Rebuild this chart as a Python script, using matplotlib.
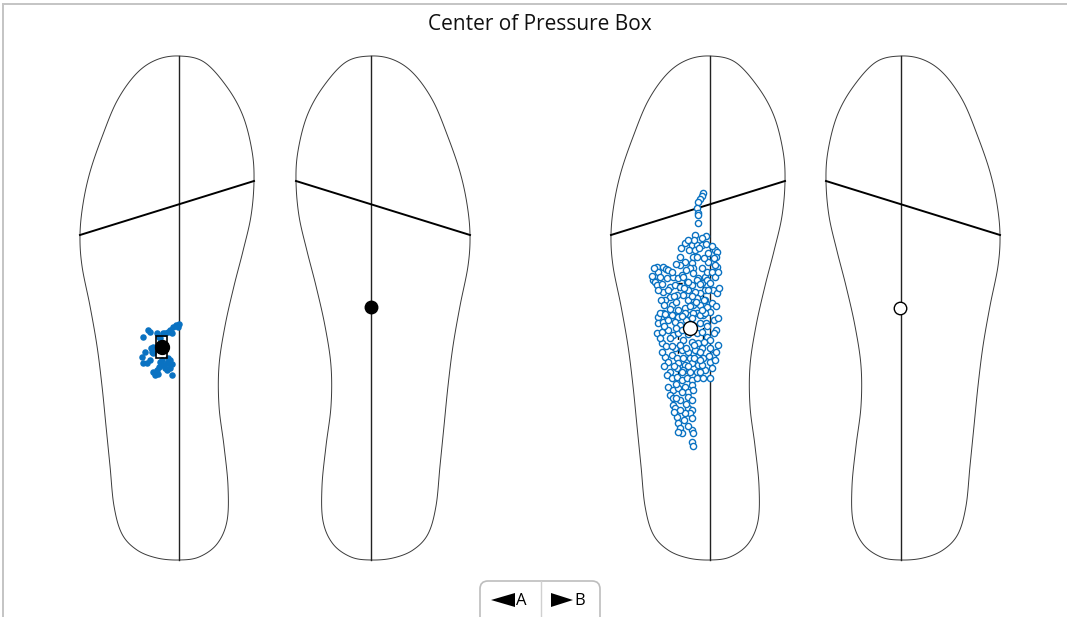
import numpy as np
import matplotlib
matplotlib.use("Agg")
import matplotlib.pyplot as plt
from matplotlib.patches import Rectangle, FancyBboxPatch, Polygon

W, H = 1067, 617

# foot outline (left sole), x from centre line, y from toe tip
OUTLINE_X = [0, 25, 48, 64, 73, 75, 72, 64, 55, 46, 40, 40, 45, 49, 48, 38, 20,
             0, -22, -42, -57, -65, -69, -73, -77, -82, -89, -97, -99, -96, -89, -77, -62, -43, -23]
OUTLINE_Y = [0, 6, 31, 60, 95, 125, 160, 195, 230, 270, 310, 350, 390, 430, 465, 488, 501,
             504, 502, 494, 478, 450, 410, 370, 330, 290, 250, 210, 179, 148, 116, 81, 45, 18, 4]
CROSS_X = [-99, 75]
CROSS_Y = [179, 125]
FOOT_LEN = 504

# condition A, left foot: centre of pressure samples
a_left_x = [-36, -29, -22, -14, -9, -6, -3, 0, -1, -7, -11, -16, -20, -27, -26, -37, -36,
            -32, -26, -24, -22, -20, -16, -12, -10, -7, -9, -12, -17, -11, -7, -26, -28,
            -31, -19, -34, -29, -19, -14, -21, -9]
a_left_y = [281, 276, 277, 277, 274, 271, 269, 268, 271, 277, 276, 277, 281, 296, 297, 301, 307,
            307, 316, 319, 314, 311, 309, 307, 307, 308, 312, 314, 304, 302, 319, 291, 292,
            274, 282, 296, 304, 306, 312, 318, 304]
a_left_mean = (-17, 291)
a_left_box = (-23, 280, -12, 302)
a_right_mean = (0, 251)

# condition B, left foot
b_left_x = [-7, -8, -10, -12, -13, -12, -12, -12, -15, -25, -18, -13, -8, -4, -21, -15, -11,
            -2, 5, 7, -30, -25, -17, -13, 6, 3, -18, -17, -20, -30, -53, -47, -44, -42, -52,
            -50, -57, -55, -53, -43, -37, -32, -28, -27, -17, -12, -5, -3, 2, 5, 7, 5, -47,
            -40, -35, -30, -23, -18, -13, -8, -3, 0, 3, 7, -5, -10, -15, -22, -27, -33, -40,
            -45, -38, -22, -13, -5, 2, -3, -10, -17, -25, -32, -47, -52, -43, -37, -20, -13,
            -7, 0, -50, -45, -38, -32, -25, -17, -10, -5, -52, -47, -42, -35, -30, -10, -4,
            -53, -48, -42, -37, -32, -13, -8, -3, 0, -48, -40, -27, -18, -12, -35, -28, -22,
            -15, -8, 0, -45, -38, -33, -27, -20, -13, -7, -32, -25, -18, -12, 0, -40, -33,
            -27, -20, -13, -5, -43, -38, -33, -28, -23, -18, -13, -7, -42, -37, -32, -25,
            -18, -22, -17, -40, -37, -30, -22, -18, -37, -35, -22, -18, -20, -33, -25, -18,
            -32, -30, -28, -32, -18, -17, -18, -17, 4, 6, 8, 3, 5,
            2, 4, 8, 9, 6, 8, 4, 6, 2, 0, -2, -6, -8, -2, -6, -8, -3, -6, -1, -8, -10,
            -56, -58, -52, -49, -46, -42, -36, -40, -34, -26, -22, -18, -24, -28, -22, -16,
            -46, -50, -44, -38, -30, -24, -16, -10, -48, -42, -36, -28, -22, -16, -10, -46,
            -34, -28, -24, -30, -26, -22, -34, -36, -14, -20, -28, -34, -4, -8, -16, -22,
            -29, -34, -38, -24, -48, -10, -18]
b_left_y = [137, 140, 143, 146, 152, 157, 159, 167, 179, 187, 189, 189, 189, 188, 194, 194, 192,
            197, 194, 196, 201, 206, 201, 201, 201, 206, 207, 212, 212, 209, 211, 211, 213, 214,
            216, 221, 224, 226, 229, 222, 221, 222, 219, 221, 217, 222, 221, 216, 216, 221, 211,
            209, 236, 231, 229, 231, 226, 229, 224, 227, 224, 227, 234, 237, 234, 237, 236, 234,
            239, 239, 241, 244, 249, 244, 242, 244, 247, 251, 249, 249, 252, 254, 257, 261, 261,
            259, 259, 257, 259, 256, 257, 258, 259, 261, 257, 257, 259, 257, 267, 266, 264, 266,
            269, 267, 267, 277, 276, 274, 279, 277, 277, 276, 281, 284, 287, 282, 284, 286, 287,
            292, 294, 296, 294, 292, 292, 301, 299, 302, 302, 302, 301, 302, 307, 309, 307, 309,
            306, 316, 312, 314, 316, 316, 314, 319, 322, 321, 324, 322, 324, 322, 322, 331, 334,
            332, 331, 329, 336, 334, 339, 342, 344, 341, 344, 349, 352, 352, 354, 357, 361, 357,
            362, 367, 372, 377, 376, 374, 377, 386, 390, 264, 274, 289, 299, 304,
            190, 202, 216, 232, 250, 262, 277, 296, 312, 322, 206, 202, 212, 234, 244, 254,
            270, 286, 300, 309, 316, 212, 220, 234, 244, 249, 234, 240, 253, 246, 232, 226,
            240, 264, 274, 278, 270, 270, 282, 290, 290, 289, 292, 289, 296, 296, 306, 310,
            316, 310, 302, 304, 310, 328, 336, 348, 354, 364, 370, 342, 356, 246, 250, 260,
            272, 180, 182, 184, 184, 192, 208, 216, 214, 228, 228, 262]
b_left_mean = (-20, 272)
b_left_box = (-32, 227, -7, 317)
b_right_mean = (-1, 252)

FOOT_CENTRES = [179, 371, 710, 901]
BLUE = "#0a72c2"
FONT = ["Open Sans", "DejaVu Sans"]


def smooth_closed(xs, ys, n=14):
    p = np.column_stack([xs, ys]).astype(float)
    m = len(p)
    t = np.linspace(0, 1, n, endpoint=False)[:, None]
    parts = []
    for i in range(m):
        p0, p1, p2, p3 = p[i - 1], p[i], p[(i + 1) % m], p[(i + 2) % m]
        parts.append(0.5 * (2 * p1 + (-p0 + p2) * t
                            + (2 * p0 - 5 * p1 + 4 * p2 - p3) * t ** 2
                            + (-p0 + 3 * p1 - 3 * p2 + p3) * t ** 3))
    return np.vstack(parts)


def foot_axes(fig, cx, mirror):
    ax = fig.add_axes([(cx - 110) / W, (H - 570) / H, 220 / W, 520 / H])
    ax.set_xlim(-110, 110)
    ax.set_ylim(514, -6)
    ax.axis("off")
    s = -1 if mirror else 1
    pts = smooth_closed(np.array(OUTLINE_X) * s, OUTLINE_Y)
    ax.add_patch(Polygon(pts, closed=True, fill=False, ec="#3a3a3a", lw=0.7))
    ax.plot([0, 0], [0, FOOT_LEN], color="#222222", lw=1.0)
    ax.plot(np.array(CROSS_X) * s, CROSS_Y, color="black", lw=1.4)
    return ax


def box(ax, b, **kw):
    x0, y0, x1, y1 = b
    ax.add_patch(Rectangle((x0, y0), x1 - x0, y1 - y0, fill=False, **kw))


fig = plt.figure(figsize=(W / 100, H / 100), dpi=100)
fig.patch.set_facecolor("white")

# page chrome
bg = fig.add_axes([0, 0, 1, 1])
bg.set_xlim(0, W)
bg.set_ylim(H, 0)
bg.axis("off")
bg.plot([3, W], [4, 4], color="#c4c4c4", lw=1.4)
bg.plot([3, 3], [4, H], color="#c4c4c4", lw=1.4)
bg.text(540, 25, "Center of Pressure Box", ha="center", va="center",
        fontsize=15, family=FONT, color="#111111")
bg.add_patch(FancyBboxPatch((480, 581), 120, 50, boxstyle="round,pad=0,rounding_size=8",
                            fc="white", ec="#bdbdbd", lw=1.2))
bg.plot([540.5, 540.5], [581, H], color="#d0d0d0", lw=1)
bg.add_patch(Polygon([[491, 600], [515, 593], [515, 607]], closed=True, fc="black", ec="none"))
bg.add_patch(Polygon([[573, 600], [551, 593], [551, 607]], closed=True, fc="black", ec="none"))
bg.text(516, 601, "A", ha="left", va="center", fontsize=12, family=FONT)
bg.text(574, 601, "B", ha="left", va="center", fontsize=12, family=FONT)

# A: left foot
ax1 = foot_axes(fig, FOOT_CENTRES[0], False)
ax1.scatter(a_left_x, a_left_y, s=22, color=BLUE, lw=0, zorder=3)
box(ax1, a_left_box, ec="black", lw=1.2, zorder=4)
ax1.plot(*a_left_mean, "o", ms=10, color="black", zorder=5)

# A: right foot
ax2 = foot_axes(fig, FOOT_CENTRES[1], True)
ax2.plot(*a_right_mean, "o", ms=9, color="black", zorder=5)

# B: left foot
ax3 = foot_axes(fig, FOOT_CENTRES[2], False)
box(ax3, b_left_box, ec="black", lw=1.0, ls=(0, (3, 2)), zorder=2)
ax3.scatter(b_left_x, b_left_y, s=20, facecolor="white", edgecolor=BLUE, lw=1.0, zorder=3)
ax3.plot(*b_left_mean, "o", ms=10, mfc="white", mec="black", mew=1.0, zorder=5)

# B: right foot
ax4 = foot_axes(fig, FOOT_CENTRES[3], True)
ax4.plot(*b_right_mean, "o", ms=9, mfc="white", mec="black", mew=1.0, zorder=5)

fig.savefig("out.png", dpi=100)
